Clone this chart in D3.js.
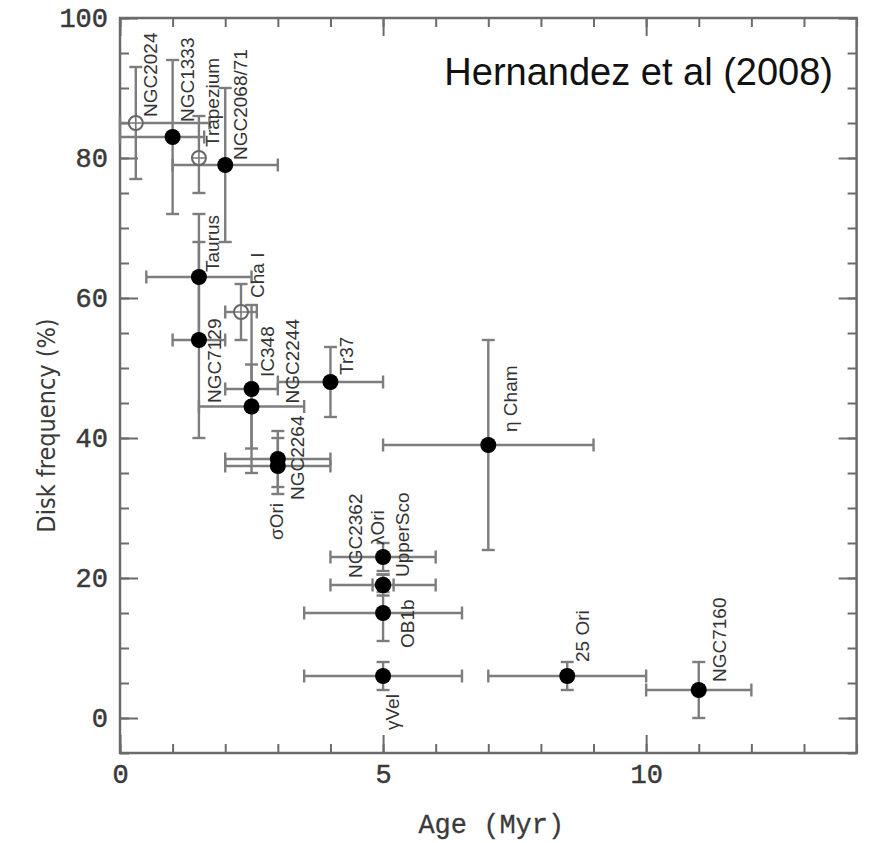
<!DOCTYPE html>
<html>
<head>
<meta charset="utf-8">
<script src="https://cdn.jsdelivr.net/npm/d3@7"></script>
<style>
  html, body { margin: 0; padding: 0; background: #fff; }
  svg { display: block; }
</style>
</head>
<body>
<svg id="chart" width="870" height="843"></svg>
<script>
// Disk frequency of young clusters versus age
const clusters = ["NGC2024", "NGC1333", "Trapezium", "NGC2068/71", "Taurus", "Cha I",
  "NGC7129", "IC348", "NGC2244", "NGC2264", "σOri", "Tr37", "η Cham", "NGC2362",
  "λOri", "UpperSco", "OB1b", "γVel", "25 Ori", "NGC7160"];
const ages     = [0.3, 1.0, 1.5, 2.0, 1.5, 2.3, 1.5, 2.5, 2.5, 3.0, 3.0, 4.0, 7.0, 5.0, 5.0, 5.0, 5.0, 5.0, 8.5, 11.0];
const ageLow   = [0.0, 0.0, 1.5, 1.0, 0.5, 2.0, 1.0, 2.0, 1.5, 2.0, 2.0, 3.0, 5.0, 4.8, 4.0, 4.0, 3.5, 3.5, 7.0, 10.0];
const ageHigh  = [1.7, 1.6, 1.5, 3.0, 2.5, 2.6, 2.0, 3.0, 3.5, 4.0, 4.0, 5.0, 9.0, 5.2, 6.0, 6.0, 6.5, 6.5, 10.0, 12.0];
const freqs    = [85, 83, 80, 79, 63, 58, 54, 47, 44.5, 37, 36, 48, 39, 19, 23, 19, 15, 6, 6, 4];
const freqLow  = [77, 72, 75, 68, 54, 54, 40, 35, 38.5, 33, 32, 43, 24, 18, 21, 17.5, 11, 4, 4, 0];
const freqHigh = [93, 94, 86, 90, 72, 62, 68, 59, 50.5, 41, 40, 53, 54, 20.5, 25, 20.5, 19, 8, 8, 8];
const openSymbol = [true, false, true, false, false, true, false, false, false, false,
  false, false, false, false, false, false, false, false, false, false];

const xTickValues = [0, 5, 10];
const yTickValues = [0, 20, 40, 60, 80, 100];
const xLabel = "Age (Myr)";
const yLabel = "Disk frequency (%)";
const title = "Hernandez et al (2008)";

// Label placement (pixel offsets of each rotated name from its point)
const labelPlacement = [
  [22, -6], [22, -15], [21, -11], [23, -5], [21, -5], [24, -14],
  [23, 63], [23, -12], [48, -3], [27, 41], [6, 74], [23, -7], [30, -13],
  [-20, -7], [2, -12], [27, -8], [32, 35], [17, 54], [23, -14], [28, -8]
];

const svg = d3.select("#chart");
const plotLeft = 120, plotRight = 856.6, plotTop = 18, plotBottom = 753;

const x = d3.scaleLinear().domain([0, 14]).range([plotLeft, plotRight]);
const y = d3.scaleLinear().domain([-5, 100]).range([plotBottom, plotTop]);

const frameColor = "#6b6b6b";
const barColor = "#7d7d7d";
const textColor = "#3a3a3a";
const monoFont = "'Liberation Mono', 'DejaVu Sans Mono', monospace";

// Axes with inward ticks on all four sides
function styleAxis(g) {
  g.select(".domain").remove();
  g.selectAll(".tick line").attr("stroke", frameColor).attr("stroke-width", 2);
}
function styleTickText(g) {
  g.selectAll("text")
    .attr("font-family", monoFont).attr("font-size", 27)
    .attr("fill", textColor).attr("stroke", textColor).attr("stroke-width", 0.5);
}
const xMinor = d3.range(0, 15, 1);
const yMinor = d3.range(-5, 101, 5);

svg.append("g").attr("transform", `translate(0,${plotBottom})`)
  .call(d3.axisBottom(x).tickValues(xMinor).tickSizeInner(-9).tickSizeOuter(0).tickFormat(""))
  .call(styleAxis);
svg.append("g").attr("transform", `translate(0,${plotBottom})`)
  .call(d3.axisBottom(x).tickValues(xTickValues).tickSizeInner(-18).tickSizeOuter(0).tickPadding(11))
  .call(styleAxis)
  .call(styleTickText);
svg.append("g").attr("transform", `translate(0,${plotTop})`)
  .call(d3.axisTop(x).tickValues(xMinor).tickSizeInner(-9).tickSizeOuter(0).tickFormat(""))
  .call(styleAxis);
svg.append("g").attr("transform", `translate(0,${plotTop})`)
  .call(d3.axisTop(x).tickValues(xTickValues).tickSizeInner(-18).tickSizeOuter(0).tickFormat(""))
  .call(styleAxis);

svg.append("g").attr("transform", `translate(${plotLeft},0)`)
  .call(d3.axisLeft(y).tickValues(yMinor).tickSizeInner(-9).tickSizeOuter(0).tickFormat(""))
  .call(styleAxis);
svg.append("g").attr("transform", `translate(${plotLeft},0)`)
  .call(d3.axisLeft(y).tickValues(yTickValues).tickSizeInner(-18).tickSizeOuter(0).tickPadding(12))
  .call(styleAxis)
  .call(styleTickText);
svg.append("g").attr("transform", `translate(${plotRight},0)`)
  .call(d3.axisRight(y).tickValues(yMinor).tickSizeInner(-9).tickSizeOuter(0).tickFormat(""))
  .call(styleAxis);
svg.append("g").attr("transform", `translate(${plotRight},0)`)
  .call(d3.axisRight(y).tickValues(yTickValues).tickSizeInner(-18).tickSizeOuter(0).tickFormat(""))
  .call(styleAxis);

// Plot frame
svg.append("rect")
  .attr("x", plotLeft).attr("y", plotTop)
  .attr("width", plotRight - plotLeft).attr("height", plotBottom - plotTop)
  .attr("fill", "none").attr("stroke", frameColor).attr("stroke-width", 2.5);

// Axis titles
svg.append("text")
  .attr("x", (plotLeft + plotRight) / 2 + 3).attr("y", 833)
  .attr("text-anchor", "middle")
  .attr("font-family", monoFont).attr("font-size", 27)
  .attr("fill", textColor).attr("stroke", textColor).attr("stroke-width", 0.3)
  .text(xLabel);
svg.append("text")
  .attr("transform", `translate(55,${(plotTop + plotBottom) / 2 + 40}) rotate(-90)`)
  .attr("text-anchor", "middle")
  .attr("font-family", "'DejaVu Sans Condensed', 'Liberation Sans Narrow', 'DejaVu Sans', sans-serif")
  .style("font-stretch", "condensed")
  .attr("font-size", 25).attr("fill", textColor)
  .text(yLabel);

svg.append("text")
  .attr("x", 833).attr("y", 85)
  .attr("text-anchor", "end")
  .attr("font-family", "'Liberation Sans', Arial, sans-serif")
  .attr("font-size", 38).attr("fill", "#111")
  .text(title);

// Error bars
const rows = clusters.map((name, i) => ({
  name, age: ages[i], freq: freqs[i],
  a0: ageLow[i], a1: ageHigh[i], f0: freqLow[i], f1: freqHigh[i],
  open: openSymbol[i], place: labelPlacement[i]
}));
const cap = 6.5;
const bars = svg.append("g").attr("stroke", barColor).attr("stroke-width", 2.4).attr("fill", "none");
rows.forEach(d => {
  const g = bars.append("g");
  if (d.a1 > d.a0) {
    g.append("line").attr("x1", x(d.a0)).attr("x2", x(d.a1)).attr("y1", y(d.freq)).attr("y2", y(d.freq));
    [d.a0, d.a1].forEach(a => g.append("line")
      .attr("x1", x(a)).attr("x2", x(a)).attr("y1", y(d.freq) - cap).attr("y2", y(d.freq) + cap));
  }
  if (d.f1 > d.f0) {
    g.append("line").attr("x1", x(d.age)).attr("x2", x(d.age)).attr("y1", y(d.f0)).attr("y2", y(d.f1));
    [d.f0, d.f1].forEach(f => g.append("line")
      .attr("x1", x(d.age) - cap).attr("x2", x(d.age) + cap).attr("y1", y(f)).attr("y2", y(f)));
  }
});

// Markers
const marks = svg.append("g");
rows.forEach(d => {
  const cx = x(d.age), cy = y(d.freq);
  if (d.open) {
    marks.append("circle").attr("cx", cx).attr("cy", cy).attr("r", 7)
      .attr("fill", "#fff").attr("stroke", "#666").attr("stroke-width", 2);
    marks.append("path")
      .attr("d", `M${cx - 6},${cy}H${cx + 6}M${cx},${cy - 6}V${cy + 6}`)
      .attr("stroke", "#777").attr("stroke-width", 1.6);
  } else {
    marks.append("circle").attr("cx", cx).attr("cy", cy).attr("r", 8).attr("fill", "#000");
  }
});

// Cluster names, written vertically
svg.append("g")
  .attr("font-family", "'Liberation Sans', Arial, sans-serif")
  .attr("font-size", 19).attr("fill", "#333")
  .selectAll("text").data(rows).join("text")
  .attr("transform", d => `translate(${x(d.age) + d.place[0]},${y(d.freq) + d.place[1]}) rotate(-90)`)
  .attr("dy", "-0.05em")
  .text(d => d.name);
</script>
</body>
</html>
